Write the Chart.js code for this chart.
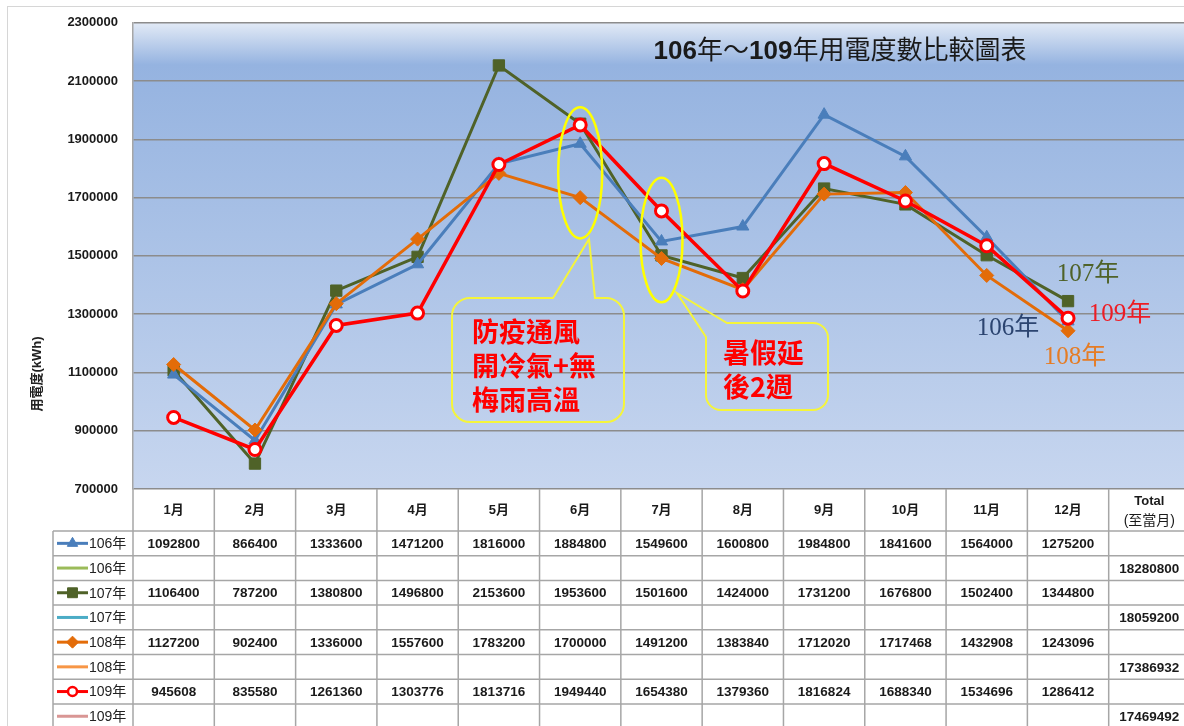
<!DOCTYPE html>
<html>
<head>
<meta charset="utf-8">
<title>106年～109年用電度數比較圖表</title>
<script src="https://cdn.jsdelivr.net/npm/chart.js@4.4.1/dist/chart.umd.min.js"></script>
<style>
  html, body { margin: 0; padding: 0; background: #fff; overflow: hidden; }
  #wrap { width: 1200px; height: 726px; }
</style>
</head>
<body>
<div id="wrap"><canvas id="usageChart" width="1200" height="726"></canvas></div>
<script>
// data
const months = ['1月', '2月', '3月', '4月', '5月', '6月', '7月', '8月', '9月', '10月', '11月', '12月'];
const columnLabels = months.concat(['Total']);
const years = ['106年', '107年', '108年', '109年'];
const usage106 = [1092800, 866400, 1333600, 1471200, 1816000, 1884800, 1549600, 1600800, 1984800, 1841600, 1564000, 1275200];
const usage107 = [1106400, 787200, 1380800, 1496800, 2153600, 1953600, 1501600, 1424000, 1731200, 1676800, 1502400, 1344800];
const usage108 = [1127200, 902400, 1336000, 1557600, 1783200, 1700000, 1491200, 1383840, 1712020, 1717468, 1432908, 1243096];
const usage109 = [945608, 835580, 1261360, 1303776, 1813716, 1949440, 1654380, 1379360, 1816824, 1688340, 1534696, 1286412];
const totals = [18280800, 18059200, 17386932, 17469492];
const yMin = 700000;
const yMax = 2300000;
const yStep = 200000;

const titleText = '106年～109年用電度數比較圖表';
const yTitle = '用電度(kWh)';
const noteSchool = ['防疫通風', '開冷氣+無', '梅雨高溫'];
const noteSummer = ['暑假延', '後2週'];

const sans = '"Liberation Sans", "Noto Sans CJK TC", sans-serif';
const serif = '"Liberation Serif", "Noto Sans CJK TC", serif';

const allUsage = [usage106, usage107, usage108, usage109];

// look of each year
const styles = [
  { color: '#4a7ebb', point: 'triangle', radius: 7, fill: '#4a7ebb', width: 3, order: 3,
    totalColor: '#9bbb59', labelColor: '#2b4470', dx: -60, dy: 7 },
  { color: '#4f6228', point: 'rect', radius: 8, fill: '#4f6228', width: 3, order: 4,
    totalColor: '#4bacc6', labelColor: '#4f6228', dx: 20, dy: -27 },
  { color: '#e36c09', point: 'rectRot', radius: 7, fill: '#e36c09', width: 3, order: 2,
    totalColor: '#f79646', labelColor: '#e57c25', dx: 7, dy: 27 },
  { color: '#ff0000', point: 'circle', radius: 6, fill: '#ffffff', width: 3.5, order: 1,
    totalColor: '#d99694', labelColor: '#ee1c24', dx: 52, dy: -4 }
];

const datasets = years.map((y, i) => ({
  label: y,
  data: allUsage[i],
  borderColor: styles[i].color,
  borderWidth: styles[i].width,
  pointStyle: styles[i].point,
  pointRadius: styles[i].radius,
  pointBackgroundColor: styles[i].fill,
  pointBorderColor: styles[i].color,
  pointBorderWidth: i === 3 ? 3 : 1,
  tension: 0,
  order: styles[i].order
}));

function marker(ctx, style, radius, x, y, color, fill, bw) {
  ctx.save();
  ctx.strokeStyle = color;
  ctx.fillStyle = fill;
  ctx.lineWidth = bw;
  Chart.helpers.drawPoint(ctx, { pointStyle: style, radius: radius, rotation: 0, borderWidth: bw }, x, y);
  ctx.restore();
}

// digits bold, the rest regular, centred on cx
function drawRuns(ctx, text, cx, cy, size, color) {
  const runs = text.split(/(\d+)/).filter(t => t.length).map(t => ({ text: t, bold: /^\d+$/.test(t) }));
  let total = 0;
  runs.forEach(r => {
    ctx.font = (r.bold ? 'bold ' : '') + size + 'px ' + sans;
    r.w = ctx.measureText(r.text).width;
    total += r.w;
  });
  let x = cx - total / 2;
  ctx.fillStyle = color;
  ctx.textAlign = 'left';
  ctx.textBaseline = 'middle';
  runs.forEach(r => {
    ctx.font = (r.bold ? 'bold ' : '') + size + 'px ' + sans;
    ctx.fillText(r.text, x, cy);
    x += r.w;
  });
}

const backdrop = {
  id: 'backdrop',
  beforeDraw(chart) {
    const { ctx, chartArea: a } = chart;
    ctx.save();
    ctx.strokeStyle = '#d6d6d6';
    ctx.lineWidth = 1;
    ctx.strokeRect(7.5, 6.5, 1400, 900);
    const g = ctx.createLinearGradient(0, a.top, 0, a.bottom);
    g.addColorStop(0, '#e2eaf6');
    g.addColorStop(0.09, '#95b3e0');
    g.addColorStop(1, '#c7d6ef');
    ctx.fillStyle = g;
    ctx.fillRect(a.left, a.top, a.right - a.left, a.bottom - a.top);
    ctx.restore();
  }
};

const overlay = {
  id: 'overlay',
  afterDatasetsDraw(chart) {
    const { ctx, scales: { x, y } } = chart;
    ctx.save();

    // yellow rings round June and July
    ctx.strokeStyle = '#ffff00';
    ctx.lineWidth = 2.5;
    [[5, 2010000, 1560000, 22], [6, 1768000, 1341000, 21]].forEach(([m, hi, lo, rx]) => {
      const top = y.getPixelForValue(hi), bot = y.getPixelForValue(lo);
      ctx.beginPath();
      ctx.ellipse(x.getPixelForValue(m), (top + bot) / 2, rx, (bot - top) / 2, 0, 0, Math.PI * 2);
      ctx.stroke();
    });

    // callout boxes
    ctx.strokeStyle = '#f5f53a';
    ctx.lineWidth = 2;
    let L = 452, T = 298, R = 624, B = 422, r = 18;
    ctx.beginPath();
    ctx.moveTo(L + r, T);
    ctx.lineTo(553, T);
    ctx.lineTo(589, 239);
    ctx.lineTo(595, T);
    ctx.lineTo(R - r, T);
    ctx.arcTo(R, T, R, T + r, r);
    ctx.lineTo(R, B - r);
    ctx.arcTo(R, B, R - r, B, r);
    ctx.lineTo(L + r, B);
    ctx.arcTo(L, B, L, B - r, r);
    ctx.lineTo(L, T + r);
    ctx.arcTo(L, T, L + r, T, r);
    ctx.closePath();
    ctx.stroke();

    L = 706; T = 323; R = 828; B = 410; r = 15;
    ctx.beginPath();
    ctx.moveTo(727, T);
    ctx.lineTo(R - r, T);
    ctx.arcTo(R, T, R, T + r, r);
    ctx.lineTo(R, B - r);
    ctx.arcTo(R, B, R - r, B, r);
    ctx.lineTo(L + r, B);
    ctx.arcTo(L, B, L, B - r, r);
    ctx.lineTo(L, 337);
    ctx.lineTo(677, 293);
    ctx.closePath();
    ctx.stroke();

    ctx.fillStyle = '#ff0000';
    ctx.font = 'bold 27px "Noto Sans CJK TC", sans-serif';
    ctx.textAlign = 'left';
    ctx.textBaseline = 'middle';
    noteSchool.forEach((t, i) => ctx.fillText(t, 472, 332 + i * 34));
    noteSummer.forEach((t, i) => ctx.fillText(t, 723, 353 + i * 34));

    // year labels next to the December points
    ctx.font = '25px ' + serif;
    ctx.textAlign = 'center';
    styles.forEach((s, i) => {
      const last = allUsage[i][11];
      ctx.fillStyle = s.labelColor;
      ctx.fillText(years[i], x.getPixelForValue(11) + s.dx, y.getPixelForValue(last) + s.dy);
    });

    drawRuns(ctx, titleText, 840, 52, 26, '#1a1a1a');
    ctx.restore();
  },
  afterDraw(chart) {
    const { ctx, chartArea: a, scales: { x } } = chart;
    const colW = (a.right - a.left) / columnLabels.length;
    const headTop = a.bottom, rowTop = headTop + 42, rowH = 24.7, keyLeft = 53;
    const rows = [];
    years.forEach((yr, i) => {
      rows.push({ label: yr, values: allUsage[i], total: '', color: styles[i].color, s: styles[i] });
      rows.push({ label: yr, values: [], total: totals[i], color: styles[i].totalColor, s: null });
    });
    const bottom = rowTop + rowH * rows.length;
    ctx.save();

    // y title
    ctx.save();
    ctx.translate(37, 374);
    ctx.rotate(-Math.PI / 2);
    ctx.fillStyle = '#222';
    ctx.font = 'bold 13px ' + sans;
    ctx.textAlign = 'center';
    ctx.textBaseline = 'middle';
    ctx.fillText(yTitle, 0, 0);
    ctx.restore();

    // grid of the table
    ctx.strokeStyle = '#a6a6a6';
    ctx.lineWidth = 1.5;
    ctx.beginPath();
    for (let k = 0; k <= columnLabels.length; k++) {
      const cx = a.left + k * colW;
      ctx.moveTo(cx, headTop);
      ctx.lineTo(cx, bottom);
    }
    ctx.moveTo(keyLeft, rowTop);
    ctx.lineTo(keyLeft, bottom);
    for (let r = 0; r <= rows.length; r++) {
      ctx.moveTo(keyLeft, rowTop + r * rowH);
      ctx.lineTo(a.right, rowTop + r * rowH);
    }
    ctx.stroke();

    // header
    ctx.fillStyle = '#1a1a1a';
    ctx.textAlign = 'center';
    ctx.textBaseline = 'middle';
    ctx.font = 'bold 13px ' + sans;
    months.forEach((m, i) => ctx.fillText(m, x.getPixelForValue(i), headTop + 21));
    const tx = x.getPixelForValue(12);
    ctx.fillText('Total', tx, headTop + 12);
    ctx.font = '14px ' + sans;
    ctx.fillText('(至當月)', tx, headTop + 32);

    // body
    rows.forEach((row, r) => {
      const cy = rowTop + r * rowH + rowH / 2;
      ctx.strokeStyle = row.color;
      ctx.lineWidth = 3;
      ctx.beginPath();
      ctx.moveTo(57, cy);
      ctx.lineTo(88, cy);
      ctx.stroke();
      if (row.s) {
        const rad = row.s.point === 'circle' ? 4.5 : row.s.radius - 1;
        marker(ctx, row.s.point, rad, 72.5, cy, row.s.color, row.s.fill, row.s.point === 'circle' ? 2.5 : 1);
      }
      ctx.fillStyle = '#222';
      ctx.textAlign = 'left';
      ctx.font = '14px ' + sans;
      ctx.fillText(row.label, 89, cy + 1);
      ctx.textAlign = 'center';
      ctx.font = 'bold 13.5px ' + sans;
      ctx.fillStyle = '#1a1a1a';
      row.values.forEach((v, i) => ctx.fillText(String(v), x.getPixelForValue(i), cy + 1));
      if (row.total !== '') ctx.fillText(String(row.total), tx, cy + 1);
    });
    ctx.restore();
  }
};

new Chart(document.getElementById('usageChart'), {
  type: 'line',
  data: {
    labels: columnLabels,
    datasets: datasets
  },
  options: {
    responsive: false,
    animation: false,
    layout: { padding: { top: 20, right: 10, bottom: 237, left: 0 } },
    plugins: {
      legend: { display: false },
      tooltip: { enabled: false },
      title: { display: false }
    },
    scales: {
      x: { display: false, offset: true },
      y: {
        min: yMin,
        max: yMax,
        ticks: {
          stepSize: yStep,
          padding: 15,
          color: '#1a1a1a',
          font: { family: sans, size: 13, weight: 'bold' },
          callback: v => String(v)
        },
        grid: { color: '#8c8c8c', lineWidth: 1.5, drawTicks: false },
        border: { display: true, color: '#a6a6a6', width: 1.5 },
        afterFit(scale) { scale.width = 133; }
      }
    }
  },
  plugins: [backdrop, overlay]
});
</script>
</body>
</html>
